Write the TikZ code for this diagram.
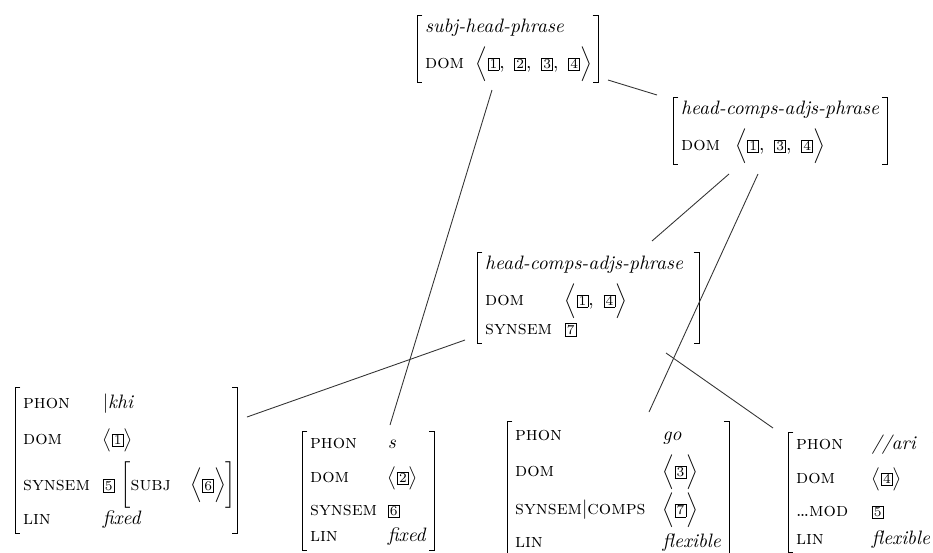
\documentclass[tikz,border=0pt]{standalone}
\usepackage{array}
\newcommand{\tg}[1]{{\setlength{\fboxsep}{0.65pt}\setlength{\fboxrule}{0.4pt}\fbox{\scriptsize #1}}}
\newcommand{\ft}[1]{\textsc{#1}}
\begin{document}
\begin{tikzpicture}[x=0.515pt,y=-0.515pt,
  avm/.style={anchor=north west, inner xsep=4pt, inner ysep=0.5pt},
  brk/.style={line width=0.5pt},
  link/.style={line width=0.45pt, black!80}]
\useasboundingbox (0,0) rectangle (933,552);
\clip (0,0) rectangle (933,552);

% top
\node[avm] (n1) at (417,15) {\begin{tabular}{@{}p{26pt}@{}l@{}}
\multicolumn{2}{@{}l@{}}{\textit{subj-head-phrase}}\\[3.5pt]
\ft{dom} & $\Bigl\langle\tg{1},\ \tg{2},\ \tg{3},\ \tg{4}\Bigr\rangle$\kern-1pt
\end{tabular}};

% head-comps-adjs (upper)
\node[avm] (n2) at (673,97) {\begin{tabular}{@{}p{28pt}@{}l@{}}
\multicolumn{2}{@{}l@{}}{\textit{head-comps-adjs-phrase}}\\[3.5pt]
\ft{dom} & $\Bigl\langle\tg{1},\ \tg{3},\ \tg{4}\Bigr\rangle$
\end{tabular}};

% head-comps-adjs (middle)
\node[avm] (n3) at (477,252) {\begin{tabular}{@{}p{41pt}@{}l@{}}
\multicolumn{2}{@{}l@{}}{\textit{head-comps-adjs-phrase}\kern4pt}\\[3.5pt]
\ft{dom} & $\Bigl\langle\tg{1},\ \tg{4}\Bigr\rangle$\\[1.5pt]
\ft{synsem} & \tg{7}
\end{tabular}};

% khi
\node[avm] (n4) at (15,387) {\begin{tabular}{@{}p{41pt}@{}l@{}}
\rule{0pt}{10.5pt}\ft{phon} & $|$\textit{khi}\\[6.5pt]
\ft{dom} & $\bigl\langle\tg{1}\bigr\rangle$\\[5.2pt]
\ft{synsem} & \tg{5}\hspace{3pt}$\biggl[$\ft{subj}\hspace{10pt}$\Bigl\langle\tg{6}\Bigr\rangle\biggr]$\kern-3.5pt\\[5.5pt]
\ft{lin} & \textit{fixed}
\end{tabular}};

% s
\node[avm] (n5) at (302,431) {\begin{tabular}{@{}p{40pt}@{}l@{}}
\ft{phon} & \textit{s}\\[5.5pt]
\ft{dom} & $\bigl\langle\tg{2}\bigr\rangle$\\[5pt]
\ft{synsem} & \tg{6}\\[1.4pt]
\ft{lin} & \textit{fixed}
\end{tabular}};

% go
\node[avm] (n6) at (507,421) {\begin{tabular}{@{}p{76pt}@{}l@{}}
\rule{0pt}{9.4pt}\ft{phon} & \textit{go}\\[3.5pt]
\ft{dom} & $\Bigl\langle\tg{3}\Bigr\rangle$\\[4.6pt]
\ft{synsem}$|$\ft{comps} & $\Bigl\langle\tg{7}\Bigr\rangle$\\[4.6pt]
\ft{lin} & \textit{flexible}
\end{tabular}};

% ari
\node[avm] (n7) at (788,432) {\begin{tabular}{@{}p{39pt}@{}l@{}}
\ft{phon} & \textit{//ari}\\[5.5pt]
\ft{dom} & $\bigl\langle\tg{4}\bigr\rangle$\\[5pt]
\ldots\ft{mod} & \tg{5}\\[2pt]
\ft{lin} & \textit{flexible}
\end{tabular}};

\foreach \n in {n1,n2,n3,n4,n5,n6,n7}{
  \draw[brk] ([xshift=2.8pt]\n.north west) -- (\n.north west) -- (\n.south west) -- ([xshift=2.8pt]\n.south west);
  \draw[brk] ([xshift=-2.8pt]\n.north east) -- (\n.north east) -- (\n.south east) -- ([xshift=-2.8pt]\n.south east);
}

% connector ends
\coordinate (a1) at (608,80);  \coordinate (a2) at (657,95);
\coordinate (b1) at (492,90);  \coordinate (b2) at (390,425);
\coordinate (c1) at (729,174); \coordinate (c2) at (652,241);
\coordinate (d1) at (758,174); \coordinate (d2) at (649,412);
\coordinate (e1) at (666,353); \coordinate (e2) at (773,428);
\coordinate (f1) at (465,340); \coordinate (f2) at (247,417);

\draw[link] (a1) -- (a2);
\draw[link] (b1) -- (b2);
\draw[link] (c1) -- (c2);
\draw[link] (d1) -- (d2);
\draw[link] (e1) -- (e2);
\draw[link] (f1) -- (f2);
\end{tikzpicture}
\end{document}
